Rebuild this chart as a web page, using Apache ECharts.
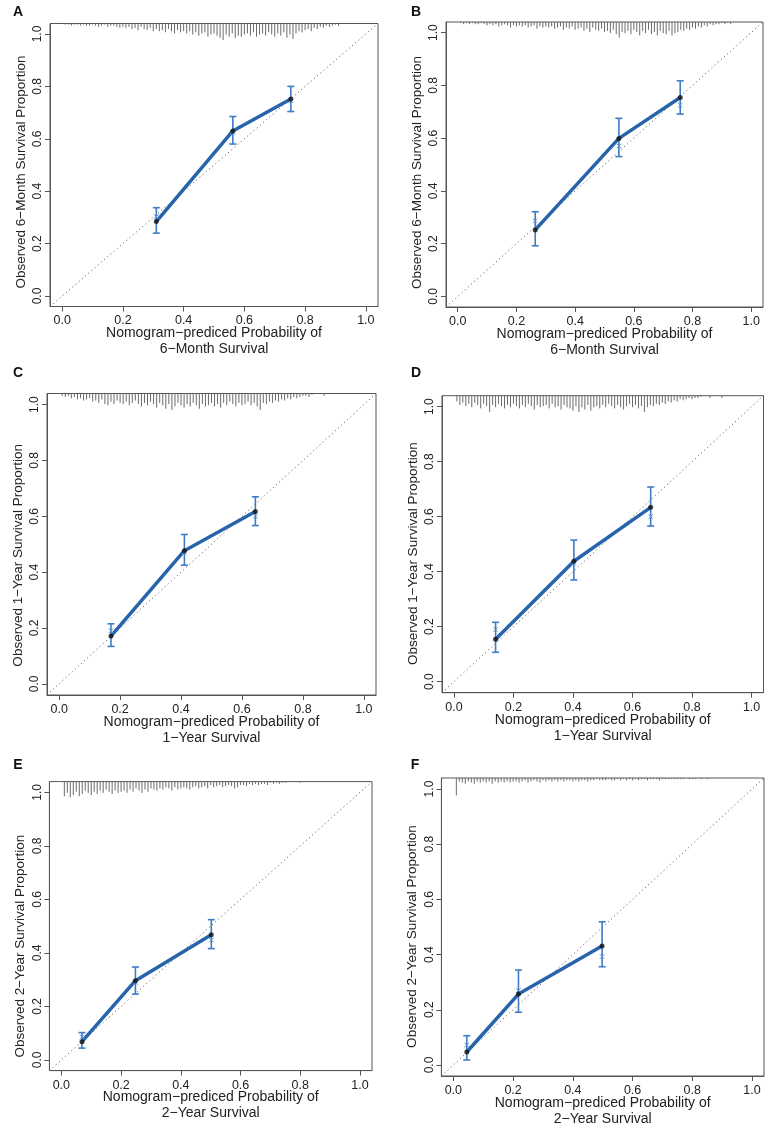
<!DOCTYPE html>
<html><head><meta charset="utf-8">
<script src="https://cdn.jsdelivr.net/npm/echarts@6/dist/echarts.min.js"></script>
<style>html,body{margin:0;padding:0;background:#fff}#c{width:767px;height:1127px}</style>
</head><body><div id="c"></div>
<script>
// ---------- data ----------
const panelLetters = ['A','B','C','D','E','F'];
const horizons = ['6−Month','6−Month','1−Year','1−Year','2−Year','2−Year'];
const tickValues = [0, 0.2, 0.4, 0.6, 0.8, 1.0];
const tickLabels = ['0.0','0.2','0.4','0.6','0.8','1.0'];
const axisRange = [-0.04, 1.04];

const predA = [0.310, 0.562, 0.753];
const obsA  = [0.284, 0.630, 0.752];
const loA   = [0.240, 0.580, 0.704];
const hiA   = [0.337, 0.685, 0.800];
const corrA = [0.303, 0.625, 0.745];

const predB = [0.264, 0.549, 0.758];
const obsB  = [0.252, 0.599, 0.754];
const loB   = [0.192, 0.530, 0.691];
const hiB   = [0.321, 0.675, 0.817];
const corrB = [0.286, 0.570, 0.725];

const predC = [0.170, 0.411, 0.644];
const obsC  = [0.171, 0.477, 0.617];
const loC   = [0.134, 0.425, 0.567];
const hiC   = [0.215, 0.535, 0.670];
const corrC = [0.190, 0.470, 0.600];

const predD = [0.140, 0.403, 0.661];
const obsD  = [0.154, 0.438, 0.634];
const loD   = [0.107, 0.370, 0.566];
const hiD   = [0.216, 0.515, 0.708];
const corrD = [0.190, 0.430, 0.600];

const predE = [0.069, 0.248, 0.502];
const obsE  = [0.068, 0.296, 0.468];
const loE   = [0.044, 0.246, 0.416];
const hiE   = [0.102, 0.347, 0.524];
const corrE = [0.085, 0.290, 0.448];

const predF = [0.045, 0.218, 0.498];
const obsF  = [0.047, 0.257, 0.431];
const loF   = [0.018, 0.191, 0.356];
const hiF   = [0.106, 0.344, 0.519];
const corrF = [0.072, 0.270, 0.393];

const rugStart = 0.01;
const rugStep = 0.01;
const rugA = [1,1,2,1,1,2,1,2,2,1, 2,3,2,1,3,2,2,3,4,3, 4,3,5,4,6,3,5,6,4,7, 5,7,6,8,5,7,9,6,8,7,
  9,7,10,8,11,9,8,12,10,9, 11,13,15,10,12,9,13,11,12,10, 9,11,8,12,10,9,11,8,10,12,
  9,11,8,13,10,14,9,7,8,6, 5,7,4,5,3,4,2,3,2,1,2];
const rugB = [1,2,1,2,1,2,2,1,2,3, 2,3,2,4,3,2,3,5,3,4, 3,4,3,5,4,3,6,4,5,4, 5,4,6,5,4,7,5,6,4,7,
  6,5,8,6,9,5,7,8,6,9, 8,10,7,11,14,9,10,8,11,7, 9,12,8,10,7,11,9,12,8,10,
  11,8,12,10,9,7,8,6,7,5, 6,4,5,3,4,2,3,2,2,1,2,1,2];
const rugC = [2,3,2,4,3,5,4,6,5,4, 7,6,8,5,9,10,7,9,6,8, 9,7,10,8,6,9,11,8,10,7, 9,12,8,10,13,9,14,11,8,10,
  12,9,11,8,10,13,9,11,10,8, 11,9,12,8,10,7,9,11,8,10, 9,7,10,8,11,14,8,9,7,8,
  6,7,5,6,4,5,3,4,3,2, 2,3,1,0,0,0,2];
const rugD = [5,8,6,9,7,10,6,8,11,7, 9,14,8,10,7,9,11,8,10,7, 9,11,8,10,7,9,12,8,10,9, 8,11,7,10,9,12,8,10,11,13,
  9,14,10,12,8,13,10,9,11,8, 10,7,9,11,8,10,12,9,7,10, 8,11,9,14,10,8,9,7,8,6,
  7,5,6,4,5,3,4,3,2,3, 2,2,1,0,0,2,0,0,0,2];
const rugE = [13,10,14,12,9,13,11,8,10,12, 9,11,8,10,7,9,11,8,10,9, 8,10,7,9,6,8,10,7,9,6, 7,8,6,7,5,6,8,5,7,6,
  5,6,7,5,4,6,5,4,6,3, 5,4,3,5,4,3,4,6,5,3, 3,4,2,3,2,3,2,2,3,1,
  2,1,2,1,1,0,0,0,0,1];
const rugF = [15,3,4,5,3,4,5,3,4,3, 4,3,5,3,4,3,4,3,4,3, 3,4,3,2,4,3,2,3,4,2, 3,2,3,2,3,2,3,2,2,3,
  2,3,2,2,3,2,2,1,2,2, 2,1,2,2,1,2,1,2,1,2, 1,2,1,1,2,1,1,1,2,1,
  1,1,1,1,1,1,1,0,1,1, 1,0,1,0,1];

const panels = [
  {pred:predA, obs:obsA, lo:loA, hi:hiA, corr:corrA, rug:rugA, grid:{left:50, top:23.5, width:328, height:283}, yShift:7,  lab:[18,12.5]},
  {pred:predB, obs:obsB, lo:loB, hi:hiB, corr:corrB, rug:rugB, grid:{left:446, top:22, width:317, height:285}, yShift:8,  lab:[416,12.5]},
  {pred:predC, obs:obsC, lo:loC, hi:hiC, corr:corrC, rug:rugC, grid:{left:47, top:393.5, width:329, height:301.5}, yShift:11, lab:[18,373.5]},
  {pred:predD, obs:obsD, lo:loD, hi:hiD, corr:corrD, rug:rugD, grid:{left:442, top:395.7, width:321.5, height:297}, yShift:9.5, lab:[416,373.5]},
  {pred:predE, obs:obsE, lo:loE, hi:hiE, corr:corrE, rug:rugE, grid:{left:49.4, top:781.6, width:322.6, height:289}, yShift:20, lab:[18,765]},
  {pred:predF, obs:obsF, lo:loF, hi:hiF, corr:corrF, rug:rugF, grid:{left:441.4, top:778, width:322.6, height:298}, yShift:9.5, lab:[415,765]}
];
const FONT = "'Liberation Sans', Arial, Helvetica, sans-serif";
const lineBlue = '#2764ab';
const barBlue = '#3f7cc6';
const axisGray = '#555';
const rugUnit = 0.0042;
const tickLen = 5;

const grids = [], xAxes = [], yAxes = [], series = [], graphics = [];
const fmt = v => { const i = tickValues.findIndex(t => Math.abs(t - v) < 1e-9); return i >= 0 ? tickLabels[i] : v.toFixed(1); };

panels.forEach((p, i) => {
  grids.push(Object.assign({show:true, borderColor:axisGray, borderWidth:1, backgroundColor:'transparent', containLabel:false, outerBoundsMode:'none'}, p.grid));
  xAxes.push({
    type:'value', gridIndex:i, min:axisRange[0], max:axisRange[1], position:'bottom',
    axisLine:{show:true, onZero:false, lineStyle:{color:axisGray, width:1}}, splitLine:{show:false},
    axisTick:{show:true, inside:false, customValues:tickValues, length:tickLen, lineStyle:{color:axisGray, width:1}},
    axisLabel:{show:true, customValues:tickValues, formatter:fmt, margin:8, fontSize:12.5, color:'#222', fontFamily:FONT},
    name:'Nomogram−prediced Probability of\n' + horizons[i] + ' Survival',
    nameLocation:'middle', nameGap:19, nameMoveOverlap:false,
    nameTextStyle:{fontSize:14, color:'#222', fontFamily:FONT, lineHeight:16, verticalAlign:'top'}
  });
  yAxes.push({
    type:'value', gridIndex:i, min:axisRange[0], max:axisRange[1], position:'left',
    axisLine:{show:true, onZero:false, lineStyle:{color:axisGray, width:1}}, splitLine:{show:false},
    axisTick:{show:true, inside:false, customValues:tickValues, length:tickLen, lineStyle:{color:axisGray, width:1}},
    axisLabel:{show:true, customValues:tickValues, formatter:fmt, rotate:90, margin:6, fontSize:12, color:'#222', fontFamily:FONT},
    name:'Observed ' + horizons[i] + ' Survival Proportion',
    nameLocation:'middle', nameGap:22, nameRotate:90, nameMoveOverlap:false,
    nameTextStyle:{fontSize:13.5, color:'#222', fontFamily:FONT, padding:[0, 2*p.yShift, 0, 0]}
  });
  series.push({
    type:'custom', xAxisIndex:i, yAxisIndex:i, z:1, silent:true,
    data:p.rug.map((c, k) => [rugStart + k*rugStep, c]),
    encode:{x:0, y:1},
    renderItem:(params, api) => {
      const x = api.value(0), c = api.value(1);
      if (!c) return null;
      const a = api.coord([x, axisRange[1]]);
      const b = api.coord([x, axisRange[1] - c*rugUnit]);
      return {type:'line', shape:{x1:a[0], y1:a[1], x2:b[0], y2:b[1]}, style:{stroke:'#6a6a6a', lineWidth:1}};
    }
  });
  series.push({
    type:'line', xAxisIndex:i, yAxisIndex:i, z:2, silent:true, symbol:'none',
    data:[[axisRange[0], axisRange[0]], [axisRange[1], axisRange[1]]],
    lineStyle:{color:'#666', width:1, type:[1.2, 3]}
  });
  series.push({
    type:'custom', xAxisIndex:i, yAxisIndex:i, z:3, silent:true,
    data:p.pred.map((x, k) => [x, p.lo[k], p.hi[k]]),
    encode:{x:0, y:[1,2]},
    renderItem:(params, api) => {
      const x = api.value(0);
      const a = api.coord([x, api.value(1)]), b = api.coord([x, api.value(2)]);
      const w = 3.5, st = {stroke:barBlue, lineWidth:1.6};
      return {type:'group', children:[
        {type:'line', shape:{x1:a[0], y1:a[1], x2:b[0], y2:b[1]}, style:st},
        {type:'line', shape:{x1:a[0]-w, y1:a[1], x2:a[0]+w, y2:a[1]}, style:st},
        {type:'line', shape:{x1:b[0]-w, y1:b[1], x2:b[0]+w, y2:b[1]}, style:st}
      ]};
    }
  });
  series.push({
    type:'line', xAxisIndex:i, yAxisIndex:i, z:4, silent:true, symbol:'none',
    data:p.pred.map((x, k) => [x, p.obs[k]]),
    lineStyle:{color:lineBlue, width:3.5, cap:'butt'}
  });
  series.push({
    type:'custom', xAxisIndex:i, yAxisIndex:i, z:5, silent:true,
    data:p.pred.map((x, k) => [x, p.corr[k]]),
    encode:{x:0, y:1},
    renderItem:(params, api) => {
      const c = api.coord([api.value(0), api.value(1)]), r = 2.2;
      const st = {stroke:'#5b8fd0', lineWidth:1};
      return {type:'group', children:[
        {type:'line', shape:{x1:c[0]-r, y1:c[1]-r, x2:c[0]+r, y2:c[1]+r}, style:st},
        {type:'line', shape:{x1:c[0]-r, y1:c[1]+r, x2:c[0]+r, y2:c[1]-r}, style:st}
      ]};
    }
  });
  series.push({
    type:'scatter', xAxisIndex:i, yAxisIndex:i, z:6, silent:true,
    data:p.pred.map((x, k) => [x, p.obs[k]]),
    symbol:'circle', symbolSize:5, itemStyle:{color:'#111'}
  });
  graphics.push({
    type:'text', x:p.lab[0], y:p.lab[1],
    style:{text:panelLetters[i], font:"bold 14px " + FONT, fill:'#111', textAlign:'center', textVerticalAlign:'middle'}
  });
});

const chart = echarts.init(document.getElementById('c'), null, {renderer:'canvas'});
chart.setOption({
  backgroundColor:'#fff', animation:false,
  grid:grids, xAxis:xAxes, yAxis:yAxes, series:series, graphic:graphics
});
</script>
</body></html>
